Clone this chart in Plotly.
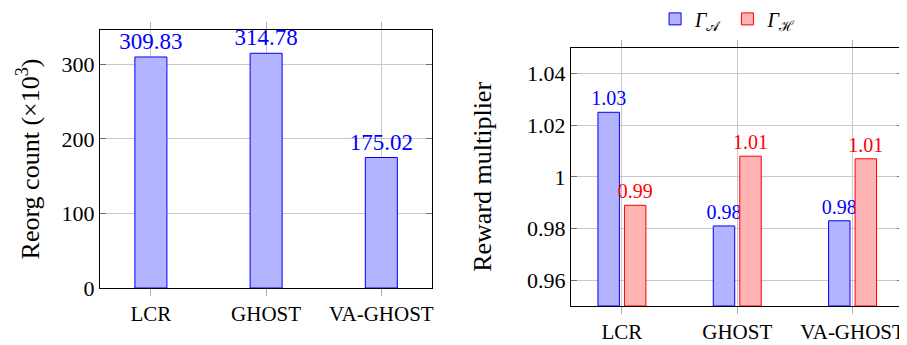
import plotly.graph_objects as go

categories = ["LCR", "GHOST", "VA-GHOST"]
reorg_counts = [309.83, 314.78, 175.02]
reorg_labels = ["309.83", "314.78", "175.02"]
reward_A = [1.025, 0.981, 0.983]
reward_A_labels = ["1.03", "0.98", "0.98"]
reward_H = [0.989, 1.008, 1.007]
reward_H_labels = ["0.99", "1.01", "1.01"]
left_ticks = [0, 100, 200, 300]
right_ticks = [0.96, 0.98, 1.00, 1.02, 1.04]
right_tick_text = ["0.96", "0.98", "1", "1.02", "1.04"]
reward_base = 0.95

FONT = "Liberation Serif"
BLUE_FILL = "rgb(179,179,255)"
RED_FILL = "rgb(255,179,179)"

fig = go.Figure()

fig.add_trace(go.Bar(
    x=[0, 1, 2], y=reorg_counts, text=reorg_labels, textposition="outside",
    textfont=dict(family=FONT, size=23, color="blue"), cliponaxis=False,
    constraintext="none",
    marker=dict(color=BLUE_FILL, line=dict(color="blue", width=1)),
    width=0.278, xaxis="x", yaxis="y", showlegend=False,
))

fig.add_trace(go.Bar(
    x=[0, 1, 2], y=[v - reward_base for v in reward_A], base=reward_base,
    text=reward_A_labels, textposition="outside",
    textfont=dict(family=FONT, size=20, color="blue"), cliponaxis=False,
    constraintext="none",
    marker=dict(color=BLUE_FILL, line=dict(color="blue", width=1)),
    width=0.186, offset=-0.208,
    xaxis="x2", yaxis="y2", name="<i>Γ</i><sub>𝒜</sub>",
))
fig.add_trace(go.Bar(
    x=[0, 1, 2], y=[v - reward_base for v in reward_H], base=reward_base,
    text=reward_H_labels, textposition="outside",
    textfont=dict(family=FONT, size=20, color="red"), cliponaxis=False,
    constraintext="none",
    marker=dict(color=RED_FILL, line=dict(color="red", width=1)),
    width=0.186, offset=0.022,
    xaxis="x2", yaxis="y2", name="<i>Γ</i><sub>ℋ</sub>",
))

common_x = dict(
    tickmode="array", tickvals=[0, 1, 2], ticktext=categories,
    range=[-0.442, 2.44], showgrid=True, gridcolor="#c8c8c8", gridwidth=1,
    ticks="outside", ticklen=7, tickcolor="#b0b0b0", mirror="ticks",
    showline=True, linecolor="black", linewidth=1.2, automargin=False,
    tickfont=dict(family=FONT, size=21, color="black"), zeroline=False,
)
common_y = dict(
    showgrid=True, gridcolor="#c8c8c8", zeroline=False,
    ticks="inside", ticklen=6, tickcolor="#707070", mirror="ticks",
    showline=True, linecolor="black", linewidth=1.2, automargin=False,
    tickfont=dict(family=FONT, size=22, color="black"),
)

fig.update_layout(
    width=907, height=345,
    margin=dict(l=0, r=0, t=0, b=0, autoexpand=False),
    paper_bgcolor="white", plot_bgcolor="white",
    barmode="overlay",
    font=dict(family=FONT, color="black"),
    xaxis=dict(domain=[0.1014, 0.4675], anchor="y", **common_x),
    yaxis=dict(
        domain=[0.1884, 0.9362], anchor="x", range=[0, 346],
        tickmode="array", tickvals=left_ticks,
        title=dict(text="Reorg count (×10<sup>3</sup>)", font=dict(family=FONT, size=26), standoff=14),
        **common_y,
    ),
    xaxis2=dict(domain=[0.6207, 0.9871], anchor="y2", **common_x),
    yaxis2=dict(
        domain=[0.1362, 0.8849], anchor="x2", range=[0.95, 1.05],
        tickmode="array", tickvals=right_ticks, ticktext=right_tick_text,
        title=dict(text="Reward multiplier", font=dict(family=FONT, size=26), standoff=27),
        **common_y,
    ),
    legend=dict(
        orientation="h", x=0.7939, xanchor="center", y=1.025, yanchor="top",
        font=dict(family=FONT, size=20, color="black"),
        bgcolor="rgba(0,0,0,0)", tracegroupgap=0,
    ),
)

fig.write_html("out.html")
